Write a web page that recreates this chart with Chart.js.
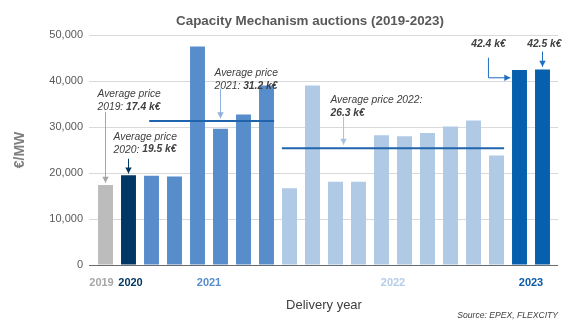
<!DOCTYPE html>
<html>
<head>
<meta charset="utf-8">
<script src="https://cdn.jsdelivr.net/npm/chart.js"></script>
<style>
  html, body { margin: 0; padding: 0; background: #fff; }
  #wrap { width: 574px; height: 334px; position: relative; }
</style>
</head>
<body>
<div id="wrap"><canvas id="auctions"></canvas></div>
<script>
// --- Data ---
const deliveryYears = ['2019', '2020',
  '2021', '2021', '2021', '2021', '2021', '2021',
  '2022', '2022', '2022', '2022', '2022', '2022', '2022', '2022', '2022', '2022',
  '2023', '2023'];
const clearingPrices = [17400, 19500,
  19400, 19250, 47500, 29600, 32700, 39000,
  16700, 39000, 18100, 18100, 28200, 28000, 28700, 30100, 31400, 23800,
  42400, 42500];
const yearNames = ['2019', '2020', '2021', '2022', '2023'];
const yearBarColors = ['#bcbcbc', '#003764', '#588dcc', '#b0c9e5', '#0660ad'];
const yearLabelColors = ['#a6a6a6', '#003764', '#588dcc', '#b4cce8', '#0a5aa5'];
const yTickValues = [0, 10000, 20000, 30000, 40000, 50000];
const averageLineValues = [31300, 25400];   // 2021, 2022 lines as drawn
const averageLabels = ['17.4 k€', '19.5 k€', '31.2 k€', '26.3 k€'];
const lastPriceLabels = ['42.4 k€', '42.5 k€'];

const FONT = '"Liberation Sans", Arial, sans-serif';
const TEXT = '#404040';

// --- Annotation layout (category index, value) ---
const avgSpans = [[1.9, 7.33], [7.67, 17.33]];
const callouts = [
  { at: [-0.35, 37100], head: 'Average price', pre: '2019: ', bold: averageLabels[0], color: '#a6a6a6', arrow: [[0, 33300], [0, 17900]] },
  { at: [0.35, 27900], head: 'Average price', pre: '2020: ', bold: averageLabels[1], color: '#003764', arrow: [[1, 23100], [1, 19900]] },
  { at: [4.74, 41800], head: 'Average price', pre: '2021: ', bold: averageLabels[2], color: '#8fb0dc', arrow: [[5, 38300], [5, 31900]] },
  { at: [9.78, 35900], head: 'Average price 2022:', pre: '', bold: averageLabels[3], color: '#a9c1e0', arrow: [[10.35, 32200], [10.35, 26150]] },
];
const topLabels = [
  { at: [16.65, 48100], text: lastPriceLabels[0], arrow: [[16.65, 45050], [16.65, 40700], [17.6, 40700]] },
  { at: [19.08, 48100], text: lastPriceLabels[1], arrow: [[19, 46400], [19, 43100]] },
];
const labelNudge = { '2019': -4, '2020': 2 };

function drawArrow(ctx, pts, color) {
  ctx.strokeStyle = color;
  ctx.fillStyle = color;
  ctx.lineWidth = 1;
  ctx.beginPath();
  ctx.moveTo(pts[0][0], pts[0][1]);
  pts.slice(1).forEach(p => ctx.lineTo(p[0], p[1]));
  ctx.stroke();
  const [x1, y1] = pts[pts.length - 2];
  const [x2, y2] = pts[pts.length - 1];
  const a = Math.atan2(y2 - y1, x2 - x1), L = 6, W = 3.2;
  ctx.beginPath();
  ctx.moveTo(x2, y2);
  ctx.lineTo(x2 - L * Math.cos(a) + W * Math.sin(a), y2 - L * Math.sin(a) - W * Math.cos(a));
  ctx.lineTo(x2 - L * Math.cos(a) - W * Math.sin(a), y2 - L * Math.sin(a) + W * Math.cos(a));
  ctx.closePath();
  ctx.fill();
}

const notes = {
  id: 'notes',
  afterDatasetsDraw(chart) {
    const { ctx, chartArea, scales: { x, y } } = chart;
    const X = i => x.getPixelForValue(i);
    const Y = v => y.getPixelForValue(v);
    const P = p => [X(p[0]), Y(p[1])];
    ctx.save();

    // average lines
    ctx.strokeStyle = '#1f64ad';
    ctx.lineWidth = 2;
    avgSpans.forEach((s, k) => {
      ctx.beginPath();
      ctx.moveTo(X(s[0]), Y(averageLineValues[k]));
      ctx.lineTo(X(s[1]), Y(averageLineValues[k]));
      ctx.stroke();
    });

    // callouts
    ctx.textBaseline = 'middle';
    ctx.textAlign = 'left';
    callouts.forEach(c => {
      const [tx, ty] = P(c.at);
      ctx.fillStyle = TEXT;
      ctx.font = `italic 10.3px ${FONT}`;
      ctx.fillText(c.head, tx, ty);
      ctx.fillText(c.pre, tx, ty + 13);
      const w = ctx.measureText(c.pre).width;
      ctx.font = `italic bold 10.3px ${FONT}`;
      ctx.fillText(c.bold, tx + w, ty + 13);
      drawArrow(ctx, c.arrow.map(P), c.color);
    });

    topLabels.forEach(t => {
      const [tx, ty] = P(t.at);
      ctx.fillStyle = TEXT;
      ctx.textAlign = 'center';
      ctx.font = `italic bold 10.3px ${FONT}`;
      ctx.fillText(t.text, tx, ty);
      drawArrow(ctx, t.arrow.map(P), '#1f6fc1');
    });

    // year group labels under the axis
    ctx.textAlign = 'center';
    ctx.font = `bold 11px ${FONT}`;
    yearNames.forEach((yr, k) => {
      const idx = deliveryYears.map((d, i) => d === yr ? i : -1).filter(i => i >= 0);
      const mid = idx.reduce((a, b) => a + b, 0) / idx.length;
      ctx.fillStyle = yearLabelColors[k];
      ctx.fillText(yr, X(mid) + (labelNudge[yr] || 0), chartArea.bottom + 18);
    });

    // title and source
    ctx.fillStyle = '#595959';
    ctx.font = `bold 13.4px ${FONT}`;
    ctx.fillText('Capacity Mechanism auctions (2019-2023)', 310, 21);
    ctx.fillStyle = TEXT;
    ctx.textAlign = 'right';
    ctx.font = `italic 8.6px ${FONT}`;
    ctx.fillText('Source: EPEX, FLEXCITY', chartArea.right + 4, 316);
    ctx.restore();
  }
};

const gridColor = c => c.tick && c.tick.value === 0 ? '#6b6b6b' : '#d9d9d9';
const yMin = yTickValues[0];
const yMax = yTickValues[yTickValues.length - 1];
const yStep = yTickValues[1] - yTickValues[0];

new Chart(document.getElementById('auctions'), {
  type: 'bar',
  data: {
    labels: deliveryYears,
    datasets: [{
      data: clearingPrices,
      backgroundColor: deliveryYears.map(d => yearBarColors[yearNames.indexOf(d)]),
      borderWidth: 0,
      barPercentage: 0.65,
      categoryPercentage: 1,
    }]
  },
  options: {
    responsive: true,
    maintainAspectRatio: false,
    animation: false,
    layout: { padding: { top: 35, right: 0, bottom: 0, left: 0 } },
    plugins: { legend: { display: false }, tooltip: { enabled: false } },
    scales: {
      x: {
        grid: { display: false },
        border: { display: false },
        ticks: { display: false },
        title: { display: true, text: 'Delivery year', color: TEXT, font: { family: FONT, size: 13 }, padding: { top: 0, bottom: 21 } },
        afterFit: s => { s.height = 69; },
      },
      y: {
        min: yMin, max: yMax,
        ticks: {
          stepSize: yStep, padding: 6, color: '#595959', font: { family: FONT, size: 11 },
          callback: v => v.toLocaleString('en-US'),
        },
        grid: { color: gridColor, tickLength: 5, lineWidth: 1 },
        border: { display: false },
        title: { display: true, text: '€/MW', color: '#7f7f7f', font: { family: FONT, size: 14, weight: 'bold' }, padding: { top: 11.6, bottom: 0 } },
        afterFit: s => { s.width = 94; },
      },
      y2: {
        position: 'right',
        min: yMin, max: yMax,
        ticks: { display: false, stepSize: yStep },
        grid: { color: gridColor, drawOnChartArea: false, tickLength: 4 },
        border: { display: false },
        afterFit: s => { s.width = 20; },
      }
    }
  },
  plugins: [notes]
});
</script>
</body>
</html>
